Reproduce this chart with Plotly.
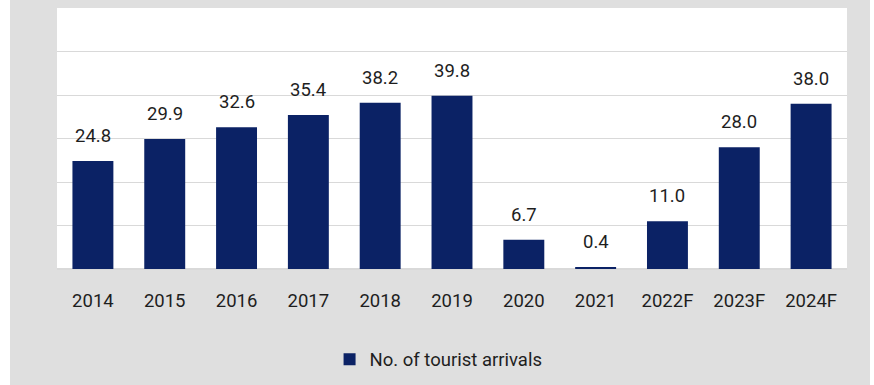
import plotly.graph_objects as go

categories = ["2014", "2015", "2016", "2017", "2018", "2019", "2020", "2021", "2022F", "2023F", "2024F"]
arrivals = [24.8, 29.9, 32.6, 35.4, 38.2, 39.8, 6.7, 0.4, 11.0, 28.0, 38.0]
series_name = "No. of tourist arrivals"

FONT = "Roboto, Arial, sans-serif"
BAR = "#0b2265"
TXT = "#1e1e1e"
FS = 18.5

fig = go.Figure()
fig.add_trace(go.Bar(x=categories, y=arrivals, name=series_name,
                     marker=dict(color=BAR, line=dict(width=0))))

for i, v in enumerate(arrivals):
    fig.add_annotation(x=i, y=v, xref="x", yref="y", text=f"{v:.1f}", showarrow=False,
                       yanchor="bottom", yshift=12,
                       font=dict(family=FONT, size=FS, color=TXT))

fig.update_layout(
    width=874, height=385,
    margin=dict(l=57, r=27, t=8, b=115),
    paper_bgcolor="#dfdfdf",
    plot_bgcolor="white",
    bargap=0.43,
    showlegend=True,
    legend=dict(orientation="h", x=0.483, xanchor="center", y=-0.27, yanchor="top",
                font=dict(family=FONT, size=FS, color=TXT), bgcolor="rgba(0,0,0,0)"),
    font=dict(family=FONT, size=FS, color=TXT),
    shapes=[
        dict(type="rect", xref="paper", yref="paper", x0=-1, x1=(10 - 57) / 790,
             y0=-1, y1=2, fillcolor="white", line=dict(width=0), layer="below"),
        dict(type="rect", xref="paper", yref="paper", x0=(870 - 57) / 790, x1=2,
             y0=-1, y1=2, fillcolor="white", line=dict(width=0), layer="below"),
    ],
)
fig.update_xaxes(type="category", range=[-0.5, len(categories) - 0.5],
                 showgrid=False, showline=False, ticks="", ticklabelstandoff=18,
                 tickfont=dict(family=FONT, size=FS, color=TXT))
fig.update_yaxes(range=[0, 60], dtick=10, showgrid=True, gridcolor="#d9d9d9", gridwidth=1,
                 showticklabels=False, zeroline=True, zerolinecolor="#d9d9d9", showline=False)

fig.write_html("out.html")
